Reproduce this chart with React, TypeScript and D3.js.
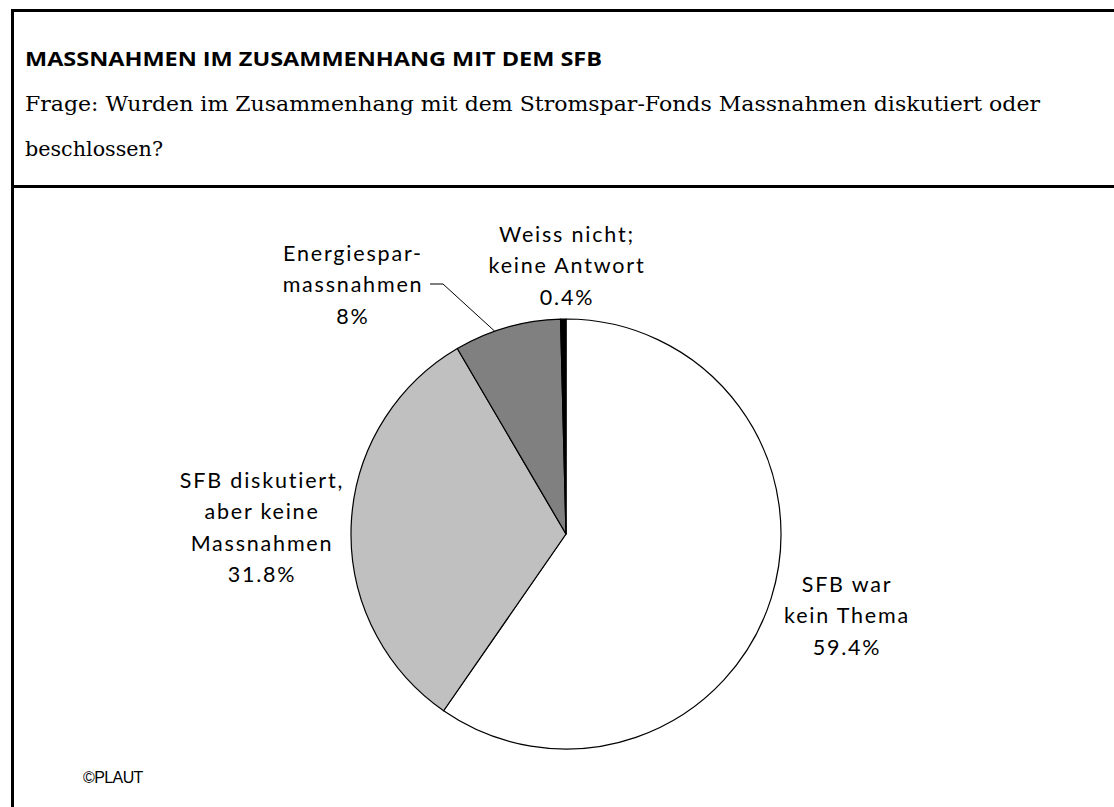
import React from "react";
import * as d3 from "d3";

const title = "MASSNAHMEN IM ZUSAMMENHANG MIT DEM SFB";
const subtitleLines = [
  "Frage: Wurden im Zusammenhang mit dem Stromspar-Fonds Massnahmen diskutiert oder",
  "beschlossen?",
];
const categories = [
  "SFB war kein Thema",
  "SFB diskutiert, aber keine Massnahmen",
  "Energiesparmassnahmen",
  "Weiss nicht; keine Antwort",
];
const values = [59.4, 31.8, 8, 0.4];
const colors = ["#ffffff", "#c0c0c0", "#808080", "#000000"];
const labelLines = [
  ["SFB war", "kein Thema", "59.4%"],
  ["SFB diskutiert,", "aber keine", "Massnahmen", "31.8%"],
  ["Energiespar-", "massnahmen", "8%"],
  ["Weiss nicht;", "keine Antwort", "0.4%"],
];
// label anchor (center x, first baseline y)
const labelPos: [number, number][] = [
  [847, 592],
  [262, 488],
  [353, 261],
  [567, 242],
];

export default function App() {
  const W = 1114;
  const H = 807;
  const cx = 566;
  const cy = 534;
  const r = 215;
  const pie = d3
    .pie<number>()
    .sort(null)
    .value((d) => d)
    .startAngle(0)
    .endAngle(2 * Math.PI);
  const arcs = pie(values);
  const arc = d3.arc<d3.PieArcDatum<number>>().innerRadius(0).outerRadius(r);

  // leader line for Energiesparmassnahmen
  const e = arcs[2];
  const mid = e.startAngle + (e.endAngle - e.startAngle) * 0.38;
  const px = cx + r * Math.sin(mid);
  const py = cy - r * Math.cos(mid);
  const leader = d3.line()([
    [430, 284],
    [443, 284],
    [px, py],
  ]);

  const labelFont = "Lato, 'Open Sans', sans-serif";
  return (
    <svg
      width={W}
      height={H}
      style={{ position: "absolute", left: 0, top: 0, background: "#fff" }}
    >
      <rect x={0} y={0} width={W} height={H} fill="#fff" />
      {/* frame */}
      <line x1={12.5} y1={10.5} x2={W + 5} y2={10.5} stroke="#000" strokeWidth={3} />
      <line x1={12.5} y1={9} x2={12.5} y2={H + 5} stroke="#000" strokeWidth={3} />
      <line x1={11} y1={186.5} x2={W + 5} y2={186.5} stroke="#000" strokeWidth={3} />
      <text
        x={25}
        y={66}
        fontFamily="'Open Sans', 'DejaVu Sans', sans-serif"
        fontWeight={700}
        fontSize={20}
        textLength={577}
        lengthAdjust="spacingAndGlyphs"
        fill="#000"
      >
        {title}
      </text>
      {subtitleLines.map((t, i) => (
        <text
          key={i}
          x={25}
          y={[111, 156][i]}
          fontFamily="'DejaVu Serif', serif"
          fontSize={21}
          textLength={i === 0 ? 1015 : 138}
          lengthAdjust="spacingAndGlyphs"
          fill="#000"
        >
          {t}
        </text>
      ))}
      <g transform={`translate(${cx},${cy})`}>
        {arcs.map((a, i) => (
          <path
            key={categories[i]}
            d={arc(a) || ""}
            fill={colors[i]}
            stroke="#000"
            strokeWidth={1.2}
            strokeLinejoin="round"
          />
        ))}
      </g>
      <path d={leader || ""} fill="none" stroke="#000" strokeWidth={1} />
      {labelLines.map((lines, i) => (
        <text
          key={i}
          textAnchor="middle"
          fontFamily={labelFont}
          fontSize={21.5}
          letterSpacing={1.8}
          fill="#000"
        >
          {lines.map((l, j) => (
            <tspan key={j} x={labelPos[i][0]} y={labelPos[i][1] + j * 31.3}>
              {l}
            </tspan>
          ))}
        </text>
      ))}
      <text
        x={83}
        y={783}
        fontFamily="'Liberation Sans', Arial, sans-serif"
        fontSize={16}
        letterSpacing={-0.6}
        fill="#000"
      >
        ©PLAUT
      </text>
    </svg>
  );
}
